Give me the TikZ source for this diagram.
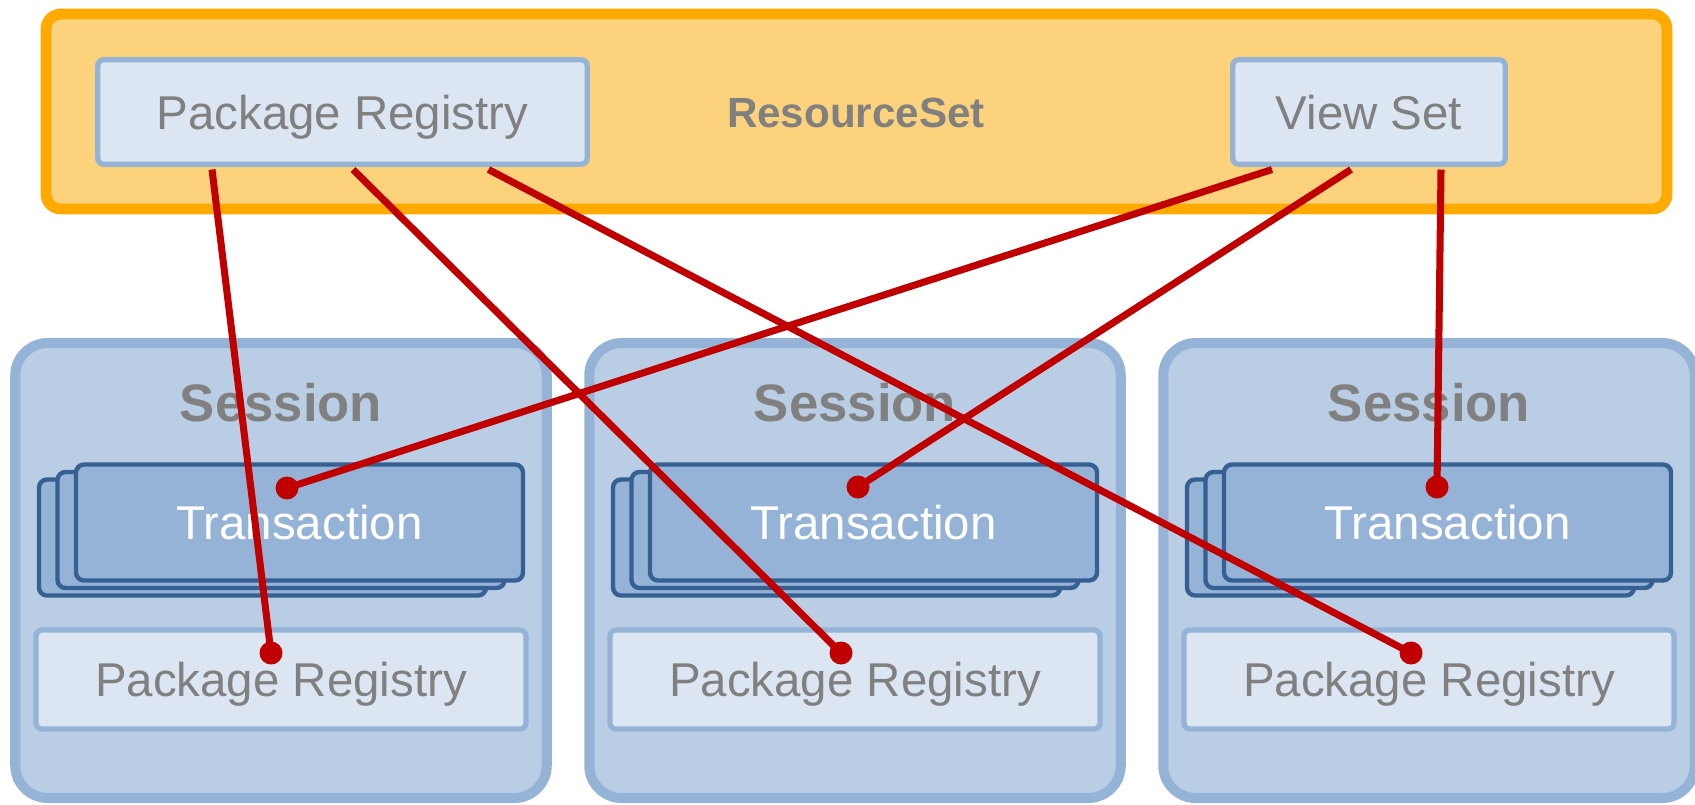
\documentclass[tikz,border=0pt]{standalone}
\usepackage{fontspec}
\setmainfont{Liberation Sans}
\usepackage{xcolor}
\usepackage{tikz}

\definecolor{setorange}{HTML}{FFAA00}
\definecolor{setfill}{HTML}{FDD27D}
\definecolor{sessfill}{HTML}{B9CDE5}
\definecolor{sessline}{HTML}{95B3D7}
\definecolor{transline}{HTML}{376092}
\definecolor{regfill}{HTML}{DCE6F2}
\definecolor{linkred}{HTML}{C00000}
\definecolor{labelgray}{HTML}{808080}

\tikzset{
    setbox/.style={draw=setorange, fill=setfill, line width=6.2pt, rounded corners=0.3cm,
        minimum width=32.42cm, minimum height=3.9cm},
    sessbox/.style={draw=sessline, fill=sessfill, line width=5.7pt, rounded corners=0.65cm,
        minimum width=10.63cm, minimum height=9.1cm},
    transbox/.style={draw=transline, fill=sessline, line width=2.5pt, rounded corners=0.16cm,
        minimum width=8.94cm, minimum height=2.32cm, text=white, font=\fontsize{27}{32}\selectfont},
    regbox/.style={draw=sessline, fill=regfill, line width=3pt, rounded corners=0.12cm,
        minimum height=1.98cm, text=labelgray, text depth=0pt, font=\fontsize{27}{32}\selectfont},
    sesstitle/.style={text=labelgray, font=\bfseries\fontsize{30}{36}\selectfont},
    settitle/.style={text=labelgray, font=\bfseries\fontsize{24}{29}\selectfont},
    link/.style={draw=linkred, line width=4pt},
}

\begin{document}
\begin{tikzpicture}
    \useasboundingbox (0, 0) rectangle (33.9, -16.08);

    % sessions
    \node[sessbox] (s1) at (5.62, -11.41) {};
    \node[sessbox] (s2) at (17.10, -11.41) {};
    \node[sessbox] (s3) at (28.58, -11.41) {};

    \node[sesstitle] (l1) at (5.62, -8.06) {Session};
    \node[sesstitle] (l2) at (17.10, -8.06) {Session};
    \node[sesstitle] (l3) at (28.58, -8.06) {Session};

    \node[transbox] (t1c) at (5.25, -10.75) {};
    \node[transbox] (t1b) at (5.62, -10.60) {};
    \node[transbox] (t1) at (5.99, -10.45) {Transaction};
    \node[transbox] (t2c) at (16.73, -10.75) {};
    \node[transbox] (t2b) at (17.10, -10.60) {};
    \node[transbox] (t2) at (17.47, -10.45) {Transaction};
    \node[transbox] (t3c) at (28.21, -10.75) {};
    \node[transbox] (t3b) at (28.58, -10.60) {};
    \node[transbox] (t3) at (28.95, -10.45) {Transaction};

    \node[regbox, minimum width=9.8cm] (r1) at (5.62, -13.59) {Package Registry};
    \node[regbox, minimum width=9.8cm] (r2) at (17.10, -13.59) {Package Registry};
    \node[regbox, minimum width=9.8cm] (r3) at (28.58, -13.59) {Package Registry};

    % resource set
    \node[setbox] (rs) at (17.13, -2.23) {};
    \node[settitle] (rslabel) at (17.12, -2.26) {ResourceSet};
    \node[regbox, minimum width=9.79cm, minimum height=2.09cm] (prtop) at (6.85, -2.24) {Package Registry};
    \node[regbox, minimum width=5.45cm, minimum height=2.09cm] (vs) at (27.38, -2.24) {View Set};

    % link ends
    \coordinate (pra) at ([xshift=-2.61cm, yshift=-1.5pt]prtop.south);
    \coordinate (prb) at ([xshift=0.21cm, yshift=-1.5pt]prtop.south);
    \coordinate (prc) at ([xshift=2.92cm, yshift=-1.5pt]prtop.south);
    \coordinate (vsa) at ([xshift=-1.94cm, yshift=-1.5pt]vs.south);
    \coordinate (vsb) at ([xshift=-0.36cm, yshift=-1.5pt]vs.south);
    \coordinate (vsc) at ([xshift=1.44cm, yshift=-1.5pt]vs.south);

    \coordinate (t1dot) at (5.74, -9.76);
    \coordinate (t2dot) at (17.16, -9.74);
    \coordinate (t3dot) at (28.74, -9.74);
    \coordinate (r1dot) at (5.42, -13.06);
    \coordinate (r2dot) at (16.82, -13.06);
    \coordinate (r3dot) at (28.22, -13.06);

    \draw[link] (pra) -- (r1dot);
    \draw[link] (prb) -- (r2dot);
    \draw[link] (prc) -- (r3dot);
    \draw[link] (vsa) -- (t1dot);
    \draw[link] (vsb) -- (t2dot);
    \draw[link] (vsc) -- (t3dot);

    \fill[linkred] (t1dot) circle[radius=0.23cm];
    \fill[linkred] (t2dot) circle[radius=0.23cm];
    \fill[linkred] (t3dot) circle[radius=0.23cm];
    \fill[linkred] (r1dot) circle[radius=0.23cm];
    \fill[linkred] (r2dot) circle[radius=0.23cm];
    \fill[linkred] (r3dot) circle[radius=0.23cm];
\end{tikzpicture}
\end{document}
